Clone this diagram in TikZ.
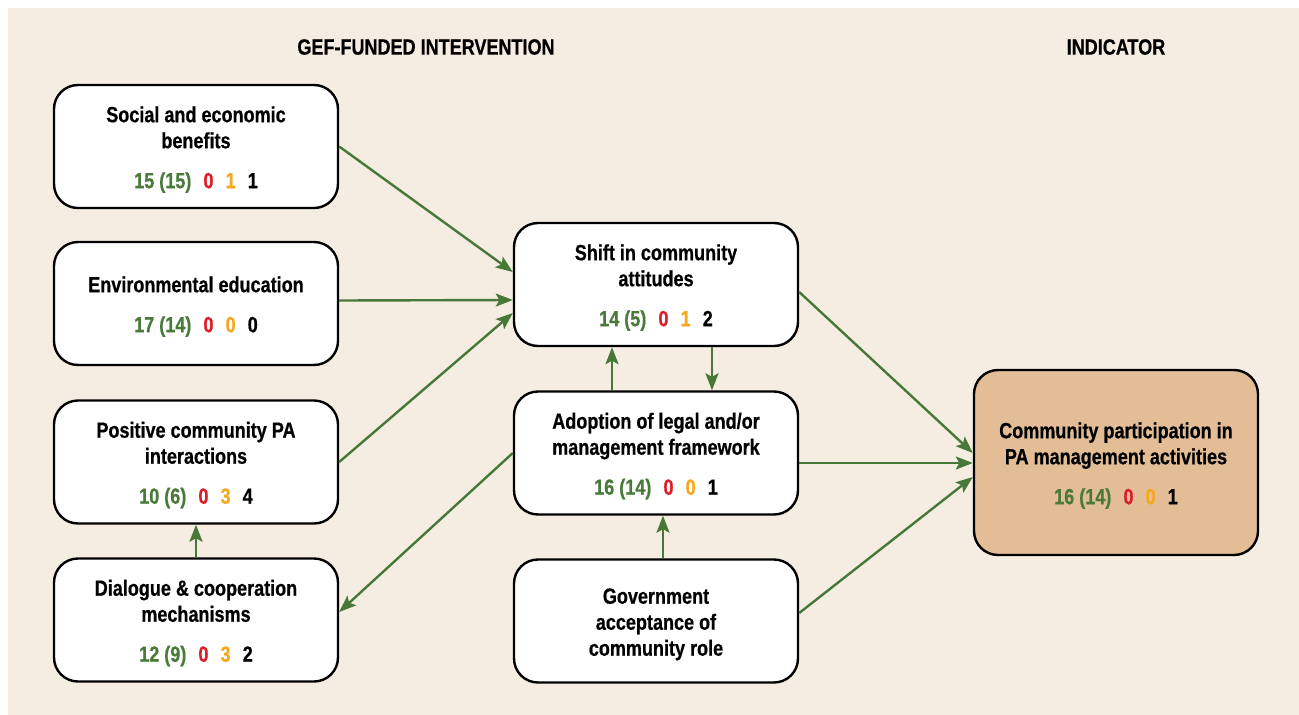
\documentclass[tikz,border=0pt]{standalone}
\usepackage{fontspec}
\setmainfont{Liberation Sans}[FakeStretch=0.82, BoldFeatures={FakeBold=0.6}]
\usetikzlibrary{arrows.meta}

\definecolor{paper}{RGB}{245,237,226}
\definecolor{flow}{RGB}{72,120,56}
\definecolor{numgreen}{RGB}{73,122,58}
\definecolor{numred}{RGB}{220,30,40}
\definecolor{numorange}{RGB}{245,168,30}
\definecolor{outcome}{RGB}{226,189,150}

% coloured result line: green total (with count), red, orange, black
\newcommand{\scoreline}[4]{%
  {\color{numgreen}#1}\hspace{0.55em}{\color{numred}#2}\hspace{0.55em}{\color{numorange}#3}\hspace{0.55em}#4}
% extra room above the first line so the text block sits a little lower
\newcommand{\topgap}{\rule{0pt}{22pt}}

\tikzset{
  box/.style={draw=black, line width=2.4pt, rounded corners=24pt, fill=white,
    minimum width=284pt, minimum height=123pt, align=center, inner sep=0pt,
    font=\fontsize{22}{26}\selectfont\bfseries},
  header/.style={font=\fontsize{22}{26}\selectfont\bfseries, inner sep=0pt},
  link/.style={draw=flow, line width=2.4pt,
    -{Stealth[length=17pt,width=13pt,inset=3.5pt]}},
}

\begin{document}
\begin{tikzpicture}[x=1pt,y=-1pt]
  \useasboundingbox (0,0) rectangle (1299,715);
  \fill[paper] (8,8) rectangle (1299,715);

  \node[header] (hint) at (426,47) {GEF-FUNDED INTERVENTION};
  \node[header] (hind) at (1116,47) {INDICATOR};

  % left column: interventions
  \node[box] (soc) at (196,146.5) {\topgap Social and economic\\benefits\\[14pt]\scoreline{15 (15)}{0}{1}{1}};
  \node[box] (env) at (196,303.5) {\topgap Environmental education\\[14pt]\scoreline{17 (14)}{0}{0}{0}};
  \node[box] (pos) at (196,462) {\topgap Positive community PA\\interactions\\[14pt]\scoreline{10 (6)}{0}{3}{4}};
  \node[box] (dia) at (196,620) {\topgap Dialogue \& cooperation\\mechanisms\\[14pt]\scoreline{12 (9)}{0}{3}{2}};

  % middle column
  \node[box] (shi) at (656,284.5) {\topgap Shift in community\\attitudes\\[14pt]\scoreline{14 (5)}{0}{1}{2}};
  \node[box] (ado) at (656,453) {\topgap Adoption of legal and/or\\management framework\\[14pt]\scoreline{16 (14)}{0}{0}{1}};
  \node[box] (gov) at (656,621) {\topgap Government\\acceptance of\\community role};

  % indicator
  \node[box, fill=outcome, minimum height=185pt] (com) at (1116,462.5)
    {\topgap Community participation in\\PA management activities\\[14pt]\scoreline{16 (14)}{0}{0}{1}};

  % connectors
  \draw[link] (soc.east) -- ([yshift=12.5pt]shi.west);
  \draw[link] ([yshift=3pt]env.east) -- ([yshift=-15.5pt]shi.west);
  \draw[link] (pos.east) -- ([yshift=-28.5pt]shi.west);
  \draw[link] (ado.west) -- ([yshift=8pt]dia.east);
  \draw[link] (dia.north) -- (pos.south);
  \draw[link] ([xshift=-44pt]ado.north) -- ([xshift=-44pt]shi.south);
  \draw[link] ([xshift=56pt]shi.south) -- ([xshift=56pt]ado.north);
  \draw[link] ([xshift=7pt]gov.north) -- ([xshift=7pt]ado.south);
  \draw[link] ([yshift=-7.5pt]shi.east) -- ([yshift=9.5pt]com.west);
  \draw[link] ([yshift=-10pt]ado.east) -- ([yshift=-0.5pt]com.west);
  \draw[link] ([yshift=8pt]gov.east) -- ([yshift=-14.5pt]com.west);
\end{tikzpicture}
\end{document}
